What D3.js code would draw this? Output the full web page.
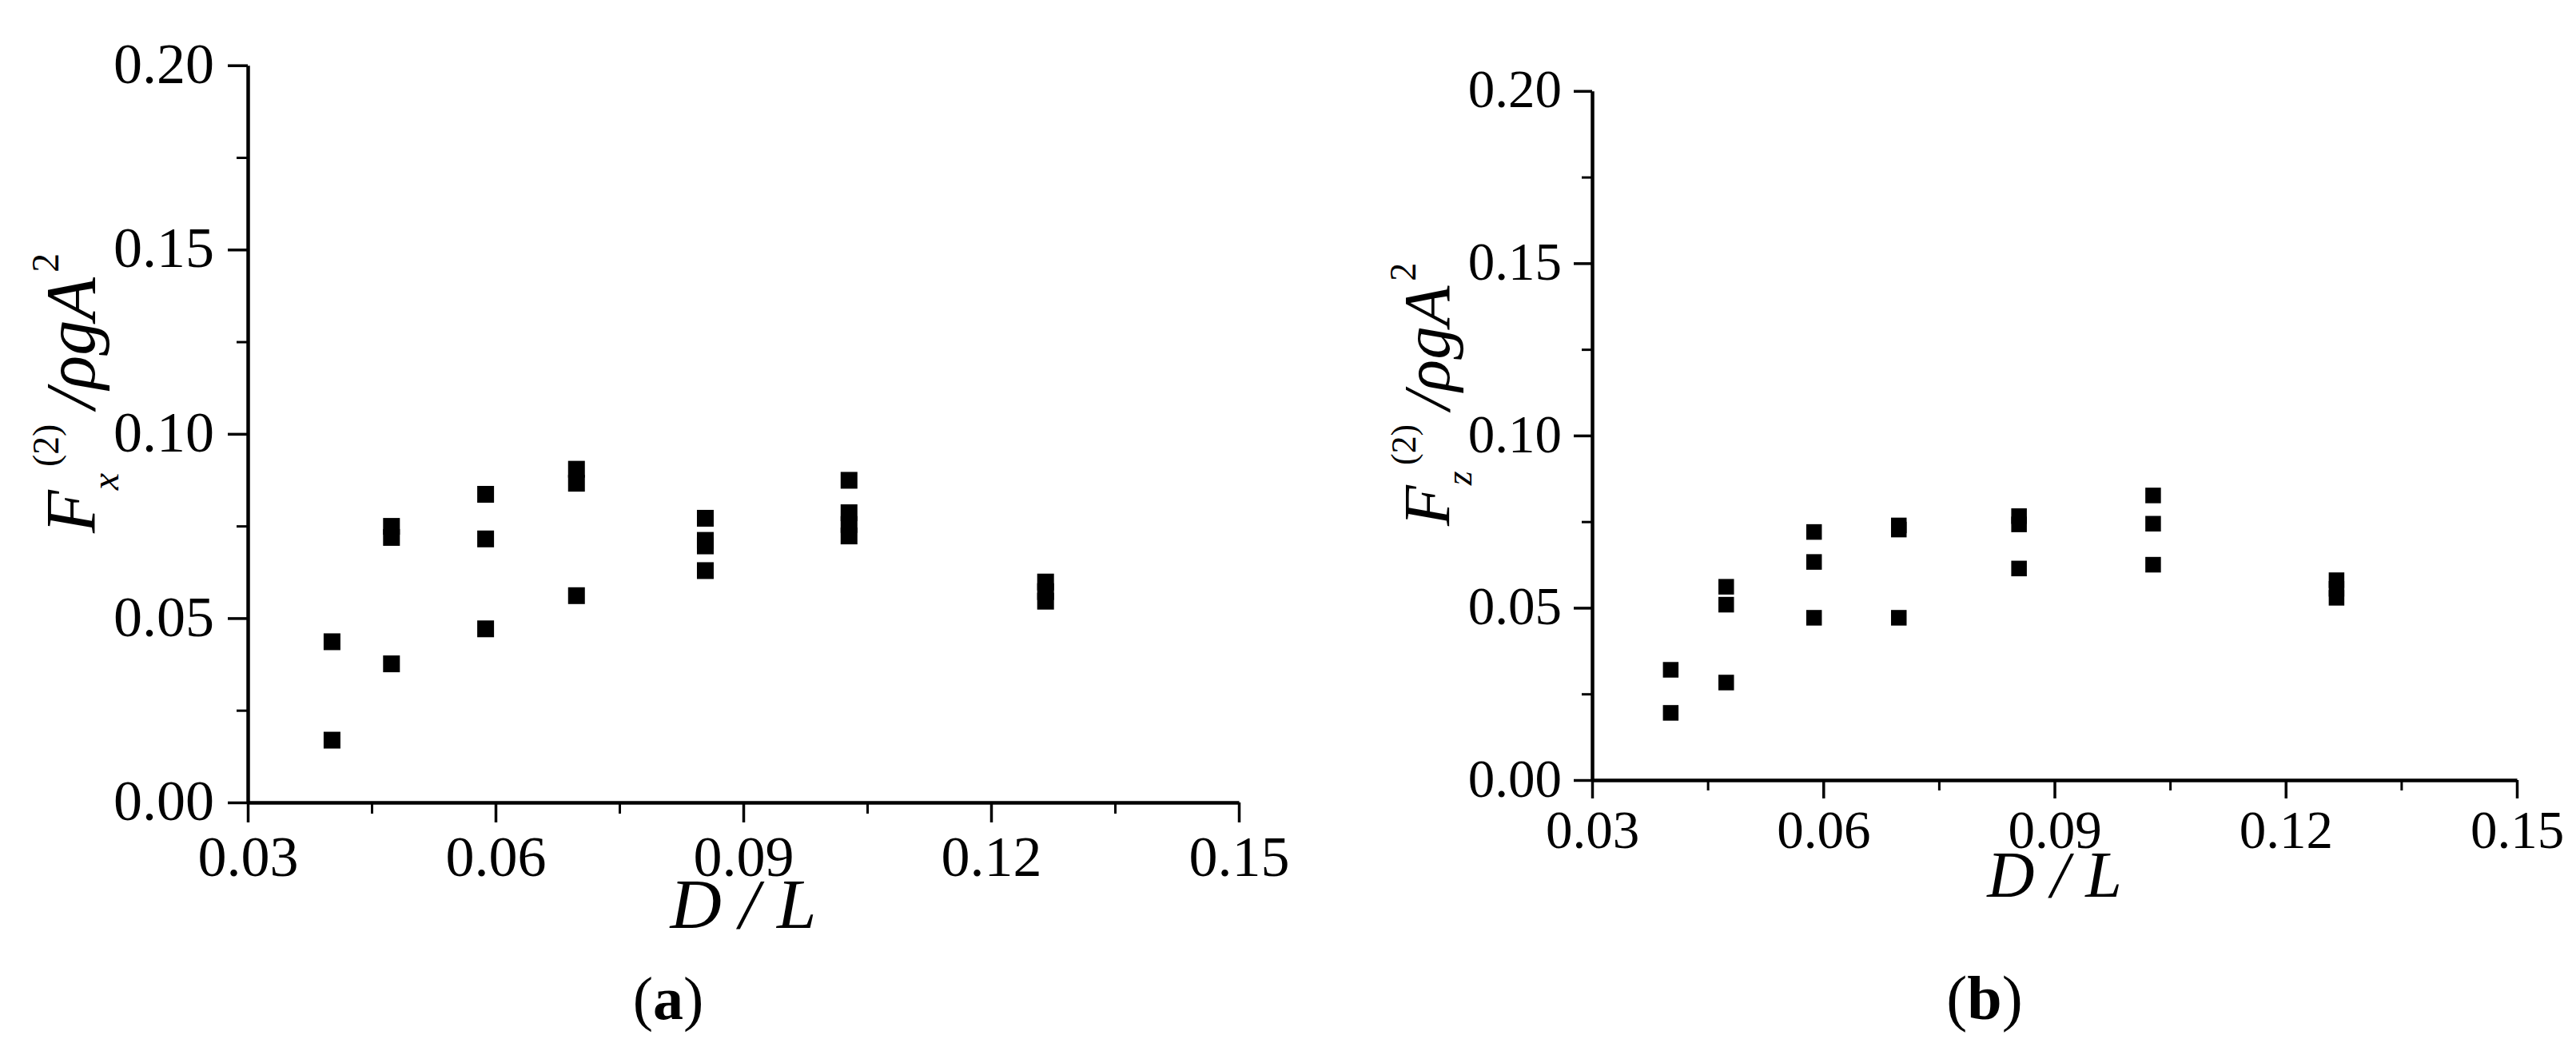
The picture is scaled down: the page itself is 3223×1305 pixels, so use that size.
<!DOCTYPE html>
<html>
<head>
<meta charset="utf-8">
<script src="https://cdn.jsdelivr.net/npm/d3@7"></script>
<style>
  html, body { margin: 0; padding: 0; background: #fff; }
  svg { display: block; }
</style>
</head>
<body>
<svg id="chart" width="3223" height="1305"></svg>
<script>
// ---- data ----
const xTickLabels = ["0.03", "0.06", "0.09", "0.12", "0.15"];
const yTickLabels = ["0.00", "0.05", "0.10", "0.15", "0.20"];

// panel (a): F_x^(2) / rho g A^2
const fxX = [0.0402, 0.0402,
             0.0474, 0.0474, 0.0474,
             0.0588, 0.0588, 0.0588,
             0.0698, 0.0698, 0.0698,
             0.0854, 0.0854, 0.0854, 0.0854,
             0.1028, 0.1028, 0.1028, 0.1028,
             0.1266, 0.1266, 0.1266];
const fxY = [0.0436, 0.0169,
             0.0749, 0.0719, 0.0376,
             0.0836, 0.0715, 0.0471,
             0.0904, 0.0866, 0.0561,
             0.0771, 0.0711, 0.0696, 0.0629,
             0.0874, 0.0786, 0.0754, 0.0723,
             0.0598, 0.0572, 0.0546];

// panel (b): F_z^(2) / rho g A^2
const fzX = [0.0402, 0.0402,
             0.0474, 0.0474, 0.0474,
             0.0588, 0.0588, 0.0588,
             0.0698, 0.0698, 0.0698,
             0.0854, 0.0854, 0.0854,
             0.1028, 0.1028, 0.1028,
             0.1266, 0.1266, 0.1266];
const fzY = [0.0320, 0.0195,
             0.0561, 0.0509, 0.0283,
             0.0720, 0.0633, 0.0471,
             0.0739, 0.0727, 0.0471,
             0.0766, 0.0742, 0.0614,
             0.0826, 0.0744, 0.0625,
             0.0580, 0.0555, 0.0529];

const xDomain = [0.03, 0.15];
const yDomain = [0.00, 0.20];

// ---- layout ----
const svg = d3.select("#chart");
const FONT = "'Liberation Serif', 'Times New Roman', serif";

const panels = [
  { left: 310, right: 1550, top: 81.7, bottom: 1004, tickFont: 72, major: 25, minor: 14, pad: 17,
    marker: 21, xs: fxX, ys: fxY, sub: "x",
    ylab: { x: 118, y: 667, size: 88 },
    xlab: { y: 1161, size: 89 },
    tag: { x: 836, y: 1275, size: 76, letter: "a" } },
  { left: 1992, right: 3149, top: 113.8, bottom: 976, tickFont: 67, major: 23, minor: 13, pad: 15,
    marker: 19.5, xs: fzX, ys: fzY, sub: "z",
    ylab: { x: 1813, y: 658, size: 83 },
    xlab: { y: 1122, size: 82 },
    tag: { x: 2483, y: 1275, size: 78, letter: "b" } }
];

panels.forEach(p => {
  const x = d3.scaleLinear().domain(xDomain).range([p.left, p.right]);
  const y = d3.scaleLinear().domain(yDomain).range([p.bottom, p.top]);
  const g = svg.append("g");

  const xMajor = xTickLabels.map(Number);
  const yMajor = yTickLabels.map(Number);
  const xMinor = d3.range(0.045, 0.15, 0.03);
  const yMinor = d3.range(0.025, 0.2, 0.05);

  // minor ticks
  g.append("g").attr("transform", `translate(0,${p.bottom})`)
    .call(d3.axisBottom(x).tickValues(xMinor).tickSize(p.minor).tickSizeOuter(0).tickFormat(""))
    .call(s => s.select(".domain").remove())
    .call(s => s.selectAll("line").attr("stroke", "#000").attr("stroke-width", 3));
  g.append("g").attr("transform", `translate(${p.left},0)`)
    .call(d3.axisLeft(y).tickValues(yMinor).tickSize(p.minor).tickSizeOuter(0).tickFormat(""))
    .call(s => s.select(".domain").remove())
    .call(s => s.selectAll("line").attr("stroke", "#000").attr("stroke-width", 3));

  // major x axis
  const xa = g.append("g").attr("transform", `translate(0,${p.bottom})`)
    .call(d3.axisBottom(x).tickValues(xMajor).tickSize(p.major).tickSizeOuter(0).tickPadding(p.pad)
      .tickFormat((d, i) => xTickLabels[i]));
  xa.select(".domain").attr("stroke", "#000").attr("stroke-width", 4.5);
  xa.selectAll("line").attr("stroke", "#000").attr("stroke-width", 3.5);
  xa.selectAll("text").attr("font-family", FONT).attr("font-size", p.tickFont).attr("fill", "#000")
    .attr("dy", "0.7em");

  // major y axis
  const ya = g.append("g").attr("transform", `translate(${p.left},0)`)
    .call(d3.axisLeft(y).tickValues(yMajor).tickSize(p.major).tickSizeOuter(0).tickPadding(p.pad)
      .tickFormat((d, i) => yTickLabels[i]));
  ya.select(".domain").attr("stroke", "#000").attr("stroke-width", 4.5);
  ya.selectAll("line").attr("stroke", "#000").attr("stroke-width", 3.5);
  ya.selectAll("text").attr("font-family", FONT).attr("font-size", p.tickFont).attr("fill", "#000")
    .attr("dy", "0.3em");

  // markers
  const pts = p.xs.map((v, i) => ({ x: v, y: p.ys[i] }));
  g.append("g").selectAll("rect").data(pts).join("rect")
    .attr("x", d => x(d.x) - p.marker / 2)
    .attr("y", d => y(d.y) - p.marker / 2)
    .attr("width", p.marker).attr("height", p.marker)
    .attr("fill", "#000");

  // y label
  const s = p.ylab.size;
  const small = Math.round(s * 0.55);
  const yl = g.append("text")
    .attr("transform", `translate(${p.ylab.x},${p.ylab.y}) rotate(-90)`)
    .attr("font-family", FONT).attr("font-size", s).attr("fill", "#000");
  yl.append("tspan").attr("font-style", "italic").text("F");
  yl.append("tspan").attr("font-style", "italic").attr("font-size", small)
    .attr("dy", s * 0.34).text(p.sub);
  yl.append("tspan").attr("font-size", small * 0.95)
    .attr("dx", s * 0.09).attr("dy", -s * 0.85).text("(2)");
  yl.append("tspan").attr("font-style", "italic")
    .attr("dx", s * 0.22).attr("dy", s * 0.51).text("/ρgA");
  yl.append("tspan").attr("font-size", small)
    .attr("dx", s * 0.07).attr("dy", -s * 0.51).text("2");

  // x label
  g.append("text")
    .attr("x", (p.left + p.right) / 2).attr("y", p.xlab.y)
    .attr("text-anchor", "middle")
    .attr("font-family", FONT).attr("font-style", "italic").attr("font-size", p.xlab.size)
    .attr("fill", "#000").text("D / L");

  // panel tag
  const t = g.append("text")
    .attr("x", p.tag.x).attr("y", p.tag.y).attr("text-anchor", "middle")
    .attr("font-family", FONT).attr("font-size", p.tag.size).attr("fill", "#000");
  t.append("tspan").text("(");
  t.append("tspan").attr("font-weight", "bold").text(p.tag.letter);
  t.append("tspan").text(")");
});
</script>
</body>
</html>
